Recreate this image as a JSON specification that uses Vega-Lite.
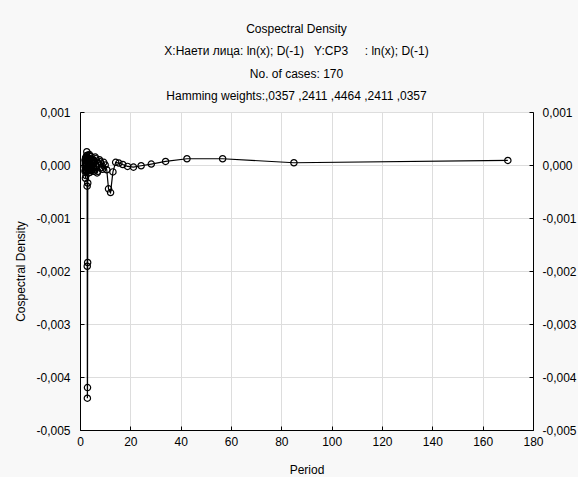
{
  "$schema": "https://vega.github.io/schema/vega-lite/v6.json",
  "width": 453,
  "height": 318,
  "autosize": "none",
  "padding": {"left": 80, "top": 112, "right": 45, "bottom": 47},
  "background": "#f8f8f8",
  "config": {
    "font": "Liberation Sans",
    "view": {"stroke": "black", "strokeWidth": 1, "fill": "white"},
    "axis": {"labelFontSize": 12, "labelColor": "black", "titleFontSize": 12, "titleFontWeight": "normal", "titleColor": "black", "domainColor": "black", "tickColor": "black", "gridColor": "#dddddd"}
  },
  "title": {
    "text": ["Cospectral Density", "X:Наети лица: ln(x); D(-1)\u00a0\u00a0\u00a0Y:CP3\u00a0\u00a0\u00a0\u00a0\u00a0: ln(x); D(-1)", "No. of cases: 170", "Hamming weights:,0357 ,2411 ,4464 ,2411 ,0357"],
    "fontSize": 12,
    "fontWeight": "normal",
    "color": "black",
    "lineHeight": 22.4,
    "anchor": "middle",
    "offset": 3,
    "dx": -10
  },
  "data": {
    "values": [
      {"period": 170, "value": 0.000086},
      {"period": 85, "value": 0.000042},
      {"period": 56.67, "value": 0.000118},
      {"period": 42.5, "value": 0.000118},
      {"period": 34, "value": 0.000067},
      {"period": 28.33, "value": 0.000018},
      {"period": 24.29, "value": -0.000014},
      {"period": 21.25, "value": -0.00004},
      {"period": 18.89, "value": -0.000027},
      {"period": 17, "value": 0.00001},
      {"period": 15.45, "value": 0.000037},
      {"period": 14.17, "value": 0.00005},
      {"period": 13.08, "value": -0.00013},
      {"period": 12.14, "value": -0.00052},
      {"period": 11.33, "value": -0.00045},
      {"period": 10.63, "value": -0.00009},
      {"period": 10, "value": 0.0},
      {"period": 9.44, "value": 0.00005},
      {"period": 8.95, "value": -0.00008},
      {"period": 8.5, "value": -0.00005},
      {"period": 8.1, "value": 0.00006},
      {"period": 7.73, "value": 0.0001},
      {"period": 7.39, "value": 0.00003},
      {"period": 7.08, "value": -0.00012},
      {"period": 6.8, "value": -0.00015},
      {"period": 6.54, "value": -0.00002},
      {"period": 6.3, "value": 0.00012},
      {"period": 6.07, "value": 0.00015},
      {"period": 5.86, "value": 0.00005},
      {"period": 5.67, "value": -0.00008},
      {"period": 5.48, "value": -0.00012},
      {"period": 5.31, "value": 0.00002},
      {"period": 5.15, "value": 0.0001},
      {"period": 5, "value": 0.00008},
      {"period": 4.86, "value": -0.00003},
      {"period": 4.72, "value": -0.0001},
      {"period": 4.59, "value": -0.00005},
      {"period": 4.47, "value": 0.00008},
      {"period": 4.36, "value": 0.00016},
      {"period": 4.25, "value": 0.00012},
      {"period": 4.15, "value": 0.0},
      {"period": 4.05, "value": -0.0001},
      {"period": 3.95, "value": -0.00014},
      {"period": 3.86, "value": -0.00005},
      {"period": 3.78, "value": 0.0001},
      {"period": 3.7, "value": 0.0002},
      {"period": 3.62, "value": 0.00018},
      {"period": 3.54, "value": 0.00005},
      {"period": 3.47, "value": -0.00008},
      {"period": 3.4, "value": -0.00015},
      {"period": 3.33, "value": -0.0001},
      {"period": 3.27, "value": 0.00005},
      {"period": 3.21, "value": 0.00012},
      {"period": 3.15, "value": -0.00005},
      {"period": 3.09, "value": -0.00034},
      {"period": 3.04, "value": -0.00184},
      {"period": 2.98, "value": -0.0042},
      {"period": 2.93, "value": -0.0044},
      {"period": 2.88, "value": -0.00191},
      {"period": 2.83, "value": -0.0004},
      {"period": 2.79, "value": -0.00012},
      {"period": 2.74, "value": 0.00015},
      {"period": 2.7, "value": 0.00025},
      {"period": 2.66, "value": 0.00018},
      {"period": 2.62, "value": 0.00002},
      {"period": 2.58, "value": -0.0001},
      {"period": 2.54, "value": -0.00005},
      {"period": 2.5, "value": 0.00008},
      {"period": 2.46, "value": 0.00015},
      {"period": 2.43, "value": 0.0001},
      {"period": 2.39, "value": -0.00002},
      {"period": 2.36, "value": -0.0002},
      {"period": 2.33, "value": -0.0001},
      {"period": 2.3, "value": 0.00003},
      {"period": 2.27, "value": 0.00012},
      {"period": 2.24, "value": 0.00014},
      {"period": 2.21, "value": 0.00005},
      {"period": 2.18, "value": -0.00008},
      {"period": 2.15, "value": -0.00025},
      {"period": 2.13, "value": -0.0001},
      {"period": 2.1, "value": 0.00002},
      {"period": 2.07, "value": 0.0001},
      {"period": 2.05, "value": 0.00008},
      {"period": 2.02, "value": -0.00003},
      {"period": 2, "value": -0.00012}
    ]
  },
  "layer": [
    {
      "mark": {"type": "line", "color": "black", "strokeWidth": 1.2},
      "encoding": {
        "x": {"field": "period", "type": "quantitative", "scale": {"domain": [0, 180], "nice": false}, "axis": {"title": "Period", "values": [0, 20, 40, 60, 80, 100, 120, 140, 160, 180], "tickSize": -4, "labelPadding": 10, "titlePadding": 17, "grid": true, "labelFlush": false}},
        "y": {"field": "value", "type": "quantitative", "scale": {"domain": [-0.005, 0.001], "nice": false, "zero": false}, "axis": {"title": "Cospectral Density", "orient": "left", "values": [-0.005, -0.004, -0.003, -0.002, -0.001, 0, 0.001], "labelExpr": "replace(replace(format(datum.value, '.3f'), '.', ','), '\u2212', '-')", "tickSize": -4, "labelPadding": 14, "titlePadding": 8, "grid": true, "labelFlush": false}}
      }
    },
    {
      "mark": {"type": "point", "shape": "circle", "filled": false, "color": "black", "size": 40, "strokeWidth": 1.2, "opacity": 1},
      "encoding": {
        "x": {"field": "period", "type": "quantitative"},
        "y": {"field": "value", "type": "quantitative", "scale": {"domain": [-0.005, 0.001], "nice": false, "zero": false}, "axis": {"title": null, "orient": "right", "values": [-0.005, -0.004, -0.003, -0.002, -0.001, 0, 0.001], "labelExpr": "replace(replace(format(datum.value, '.3f'), '.', ','), '\u2212', '-')", "tickSize": -4, "labelPadding": 13, "grid": false, "labelFlush": false}}
      }
    }
  ],
  "resolve": {"scale": {"y": "independent"}, "axis": {"y": "independent"}}
}
